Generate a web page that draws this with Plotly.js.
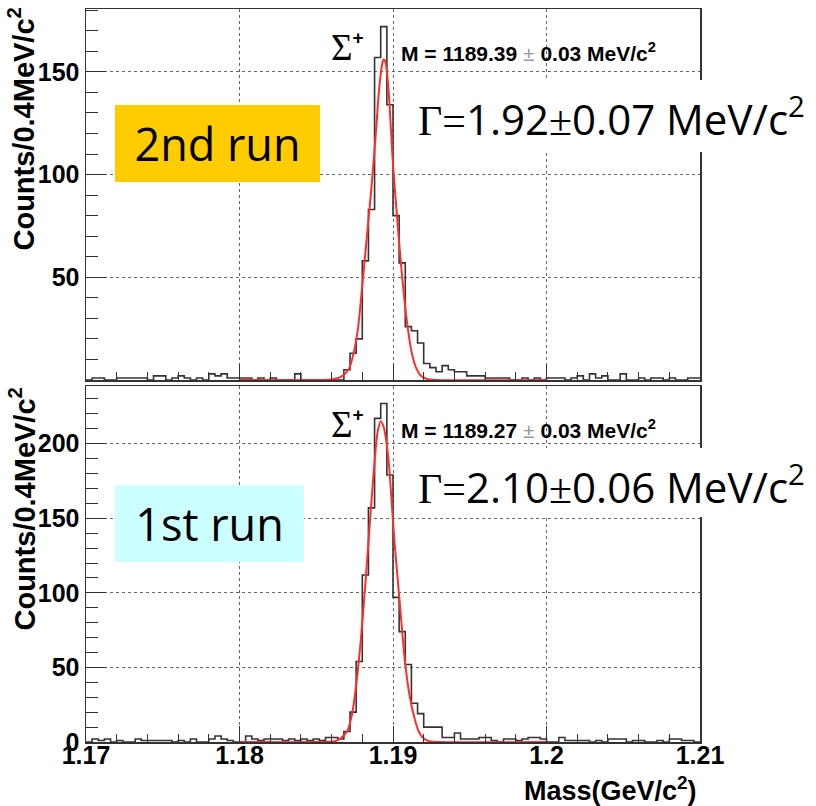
<!DOCTYPE html>
<html>
<head>
<meta charset="utf-8">
<script src="https://cdn.plot.ly/plotly-3.0.1.min.js"></script>
<style>html,body{margin:0;padding:0;background:#fff;}</style>
</head>
<body>
<div id="chart" style="width:816px;height:806px;"></div>
<script>
// ---- binning of the histograms (GeV) ----
const BIN_START = 1.17;
const BIN_WIDTH = 0.0004;

// ---- 2nd run (top panel) counts per 0.4 MeV bin, 1.17 .. 1.21 GeV ----
const countsRun2 = [
  0,1,1,0,0,1,1,1,1,1,
  0,2,2,0,1,2,1,0,1,0,
  3,2,3,1,1,1,1,0,1,0,
  1,0,0,0,3,0,0,0,0,0,
  0,0,5,13,20,58,83,157,172,134,
  80,57,26,24,18,8,6,4,7,5,
  4,4,2,2,2,1,1,1,1,0,
  0,1,0,1,0,1,1,1,0,1,
  2,0,3,1,2,0,0,3,0,0,
  1,0,1,1,0,1,0,0,1,1
];

// ---- 1st run (bottom panel) ----
const countsRun1 = [
  0,2,1,2,0,1,0,0,2,1,
  1,1,1,1,0,1,0,2,0,0,
  2,4,2,1,0,0,4,2,1,2,
  2,2,1,2,1,2,1,2,1,3,
  3,2,7,20,54,112,157,217,227,179,
  97,74,52,26,19,10,10,10,3,3,
  6,2,2,2,3,3,1,0,2,2,
  1,2,3,3,2,0,0,3,1,1,
  1,1,0,1,0,2,2,2,0,1,
  1,0,0,1,0,2,2,1,1,0
];

// ---- fit curves ----
const fitMassRun2 = [1.1800,1.1850,1.1860,1.1866,1.1871,1.1874,1.1877,1.1880,1.1883,1.1886,1.1889,1.1891,1.1893,1.1894,1.1895,1.1897,1.1900,1.1903,1.1906,1.1909,1.1912,1.1915,1.1918,1.1922,1.1928,1.2000];
const fitValRun2  = [0,0,0.3,1.5,5,12,24,46,70,94,122,142,154,156,155,142,105,76,50,29,14,6,2.2,0.5,0,0];

const fitMassRun1 = [1.1800,1.1850,1.1862,1.1866,1.1870,1.1873,1.1876,1.1879,1.1882,1.1885,1.1888,1.1890,1.1892,1.1894,1.1897,1.1899,1.1901,1.1904,1.1906,1.1908,1.1911,1.1914,1.1917,1.1920,1.1924,1.1930,1.2000];
const fitValRun1  = [0,0,0.5,2.5,7,17,38,68,106,148,188,208,215,211,190,163,134,98,74,52,30,16,6.5,2.3,0.4,0,0];

// ---- tick labels ----
const xTickVals = [1.17, 1.18, 1.19, 1.2, 1.21];
const xTickText = ['1.17', '1.18', '1.19', '1.2', '1.21'];
const yTickValsRun2 = [50, 100, 150];
const yTickTextRun2 = ['50', '100', '150'];
const yTickValsRun1 = [0, 50, 100, 150, 200];
const yTickTextRun1 = ['0', '50', '100', '150', '200'];

// ---- texts ----
const labelRun2 = '2nd run';
const labelRun1 = '1st run';
const massRun2 = 'M = 1189.39 <span style="color:#9a9a9a;font-weight:normal">±</span> 0.03 MeV/c<sup>2</sup>';
const massRun1 = 'M = 1189.27 <span style="color:#9a9a9a;font-weight:normal">±</span> 0.03 MeV/c<sup>2</sup>';
const widthRun2 = '<span style="font-family:Liberation Serif">Γ=</span>1.92<span style="font-family:Liberation Serif">±</span>0.07 MeV/c<sup>2</sup>';
const widthRun1 = '<span style="font-family:Liberation Serif">Γ=</span>2.10<span style="font-family:Liberation Serif">±</span>0.06 MeV/c<sup>2</sup>';
const particle = 'Σ<sup><span style="font-family:Liberation Sans;font-weight:bold;font-size:19px">+</span></sup>';
const yTitle = 'Counts/0.4MeV/c<sup>2</sup>';
const xTitle = 'Mass(GeV/c<sup>2</sup>)';

function stepXY(counts) {
  const xs = [], ys = [];
  for (let i = 0; i <= counts.length; i++) {
    xs.push(BIN_START + i * BIN_WIDTH);
    ys.push(counts[Math.min(i, counts.length - 1)]);
  }
  return {xs, ys};
}
const h2 = stepXY(countsRun2);
const h1 = stepXY(countsRun1);

const histLine = {color: '#333333', width: 1.6, shape: 'hv'};
const fitLine = {color: 'rgb(255,45,45)', width: 2, shape: 'spline', smoothing: 0.8};

const traces = [
  {type: 'scatter', mode: 'lines', x: h2.xs, y: h2.ys, line: histLine, xaxis: 'x', yaxis: 'y', hoverinfo: 'skip'},
  {type: 'scatter', mode: 'lines', x: fitMassRun2, y: fitValRun2, line: fitLine, xaxis: 'x', yaxis: 'y', hoverinfo: 'skip'},
  {type: 'scatter', mode: 'lines', x: h1.xs, y: h1.ys, line: histLine, xaxis: 'x2', yaxis: 'y2', hoverinfo: 'skip'},
  {type: 'scatter', mode: 'lines', x: fitMassRun1, y: fitValRun1, line: fitLine, xaxis: 'x2', yaxis: 'y2', hoverinfo: 'skip'}
];

// geometry helpers: plot area is x 86..700, y 9..742 px
const L = 86, R = 700, T = 9, B = 742;
const px = v => (v - L) / (R - L);
const py = v => (B - v) / (B - T);

const tickFontX = {family: 'Liberation Sans, Arial, sans-serif', color: '#000', weight: 'bold', size: 25};
const tickFontY = {family: 'Liberation Sans, Arial, sans-serif', color: '#000', weight: 'bold', size: 25};
const rootFont = {family: 'Liberation Sans, Arial, sans-serif', color: '#000', weight: 'bold'};

const xCommon = {
  range: [1.17, 1.21], tickmode: 'array', tickvals: xTickVals, ticktext: xTickText,
  ticks: 'inside', ticklen: 16, tickwidth: 1, tickcolor: '#333',
  showline: true, mirror: true, linecolor: '#333', linewidth: 1.5,
  showgrid: true, gridcolor: '#666', griddash: 'dot', gridwidth: 1, zeroline: false,
  minor: {tickmode: 'linear', tick0: 1.17, dtick: 0.002, ticks: 'inside', ticklen: 8, tickcolor: '#333', showgrid: false},
  tickfont: tickFontX, ticklabelstandoff: -10
};
const yCommon = {
  ticks: 'inside', ticklen: 20, tickwidth: 1, tickcolor: '#333',
  showline: true, mirror: true, linecolor: '#333', linewidth: 1.5,
  showgrid: true, gridcolor: '#666', griddash: 'dot', gridwidth: 1, zeroline: false,
  minor: {tickmode: 'linear', tick0: 0, dtick: 10, ticks: 'inside', ticklen: 12, tickcolor: '#333', showgrid: false},
  tickfont: tickFontY, tickmode: 'array', ticklabelstandoff: 0
};

const layout = {
  width: 816, height: 806,
  margin: {l: L, r: 816 - R, t: T, b: 806 - B, pad: 0},
  paper_bgcolor: '#fff', plot_bgcolor: '#fff',
  showlegend: false,
  xaxis: Object.assign({}, xCommon, {domain: [0, 1], anchor: 'y', showticklabels: false}),
  yaxis: Object.assign({}, yCommon, {domain: [py(380), 1], anchor: 'x', range: [0, 180.6], tickvals: yTickValsRun2, ticktext: yTickTextRun2}),
  xaxis2: Object.assign({}, xCommon, {domain: [0, 1], anchor: 'y2'}),
  yaxis2: Object.assign({}, yCommon, {domain: [0, py(386)], anchor: 'x2', range: [0, 238.7], tickvals: yTickValsRun1, ticktext: yTickTextRun1}),
  shapes: [
    {type: 'rect', xref: 'paper', yref: 'paper', x0: px(397), x1: px(816), y0: py(152), y1: py(80), fillcolor: '#fff', line: {width: 0}, layer: 'above'},
    {type: 'rect', xref: 'paper', yref: 'paper', x0: px(397), x1: px(816), y0: py(517), y1: py(448), fillcolor: '#fff', line: {width: 0}, layer: 'above'}
  ],
  annotations: [
    // y titles
    {xref: 'paper', yref: 'paper', x: px(22), y: py(6), xanchor: 'center', yanchor: 'top', textangle: -90, showarrow: false,
     text: yTitle, font: Object.assign({size: 29}, rootFont)},
    {xref: 'paper', yref: 'paper', x: px(22), y: py(386), xanchor: 'center', yanchor: 'top', textangle: -90, showarrow: false,
     text: yTitle, font: Object.assign({size: 29}, rootFont)},
    // x title
    {xref: 'paper', yref: 'paper', x: px(699), y: py(789), xanchor: 'right', yanchor: 'middle', showarrow: false,
     text: xTitle, font: Object.assign({size: 27}, rootFont)},
    // particle labels
    {xref: 'paper', yref: 'paper', x: px(347), y: py(48), xanchor: 'center', yanchor: 'middle', showarrow: false,
     text: particle, font: {family: 'Liberation Serif, Times New Roman, serif', size: 37, color: '#000'}},
    {xref: 'paper', yref: 'paper', x: px(347), y: py(425), xanchor: 'center', yanchor: 'middle', showarrow: false,
     text: particle, font: {family: 'Liberation Serif, Times New Roman, serif', size: 37, color: '#000'}},
    // mass values
    {xref: 'paper', yref: 'paper', x: px(399), y: py(52), xanchor: 'left', yanchor: 'middle', showarrow: false,
     text: massRun2, font: Object.assign({size: 21}, rootFont)},
    {xref: 'paper', yref: 'paper', x: px(399), y: py(429), xanchor: 'left', yanchor: 'middle', showarrow: false,
     text: massRun1, font: Object.assign({size: 21}, rootFont)},
    // widths
    {xref: 'paper', yref: 'paper', x: px(416), y: py(116), xanchor: 'left', yanchor: 'middle', showarrow: false,
     text: widthRun2, font: {family: 'Open Sans, Noto Sans, sans-serif', size: 42, color: '#000'}},
    {xref: 'paper', yref: 'paper', x: px(416), y: py(484), xanchor: 'left', yanchor: 'middle', showarrow: false,
     text: widthRun1, font: {family: 'Open Sans, Noto Sans, sans-serif', size: 42, color: '#000'}},
    // run labels
    {xref: 'paper', yref: 'paper', x: px(217.5), y: py(143.5), xanchor: 'center', yanchor: 'middle', showarrow: false,
     width: 205, height: 77, borderpad: 0, borderwidth: 0, bgcolor: '#FFCC00', align: 'center', valign: 'middle',
     text: labelRun2, font: {family: 'Open Sans, Noto Sans, sans-serif', size: 45, color: '#000'}},
    {xref: 'paper', yref: 'paper', x: px(209.5), y: py(523.5), xanchor: 'center', yanchor: 'middle', showarrow: false,
     width: 189, height: 77, borderpad: 0, borderwidth: 0, bgcolor: '#CCFFFF', align: 'center', valign: 'middle',
     text: labelRun1, font: {family: 'Open Sans, Noto Sans, sans-serif', size: 45, color: '#000'}}
  ]
};

Plotly.newPlot('chart', traces, layout, {staticPlot: true, displayModeBar: false});
</script>
</body>
</html>
